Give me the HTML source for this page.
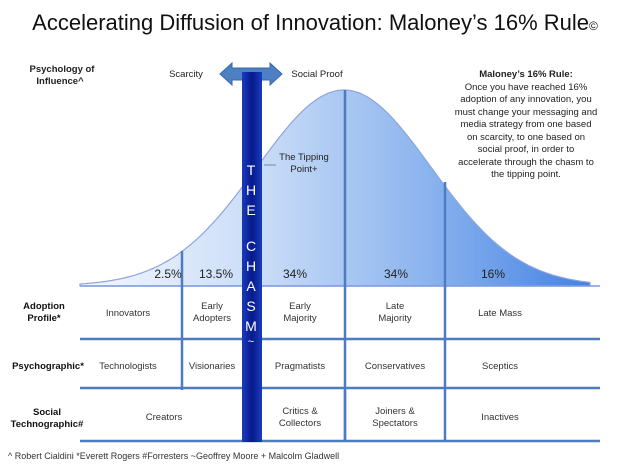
<!DOCTYPE html>
<html><head><meta charset="utf-8"><style>
body{margin:0;background:#fff;width:630px;height:466px;overflow:hidden}
svg{display:block}
text{font-family:"Liberation Sans",sans-serif}
</style></head><body>
<svg width="630" height="466" viewBox="0 0 630 466" xmlns="http://www.w3.org/2000/svg">
<defs>
<linearGradient id="cg" x1="80" y1="0" x2="600" y2="0" gradientUnits="userSpaceOnUse">
<stop offset="0" stop-color="#f4f8fe"/><stop offset="0.35" stop-color="#c9dcf7"/><stop offset="0.65" stop-color="#8fb6ef"/><stop offset="1" stop-color="#3f7fe3"/></linearGradient>
<linearGradient id="bar" x1="0" y1="0" x2="1" y2="0">
<stop offset="0" stop-color="#1a3bbf"/><stop offset="0.5" stop-color="#071a8a"/><stop offset="1" stop-color="#1a3bbf"/></linearGradient>
</defs>
<text x="315" y="30" text-anchor="middle" font-size="22" fill="#111">Accelerating Diffusion of Innovation: Maloney’s 16% Rule<tspan font-size="12">©</tspan></text>
<path id="curve" fill="url(#cg)" stroke="#8fa4dc" stroke-width="1.2"/>
<line x1="80" y1="286" x2="600" y2="286" stroke="#7f9be0" stroke-width="1.5"/>
<g stroke="#4d7cbf" stroke-width="2.5">
<line x1="182" y1="251" x2="182" y2="390"/>
<line x1="345" y1="90" x2="345" y2="442"/>
<line x1="445" y1="182" x2="445" y2="442"/>
<line x1="345" y1="390" x2="345" y2="442"/>
<line x1="80" y1="339" x2="600" y2="339"/>
<line x1="80" y1="388" x2="600" y2="388"/>
<line x1="80" y1="441" x2="600" y2="441"/>
</g>
<polygon points="220,74 232,63 232,68 270,68 270,63 282,74 270,85 270,80 232,80 232,85" fill="#4d7fc3" stroke="#3a68a8"/>
<rect x="242" y="72" width="20" height="370" fill="url(#bar)"/>
<g fill="#fff" font-size="14" text-anchor="middle">
<text x="251" y="175">T</text><text x="251" y="195">H</text><text x="251" y="215">E</text>
<text x="251" y="251">C</text><text x="251" y="271">H</text><text x="251" y="291">A</text><text x="251" y="311">S</text><text x="251" y="331">M</text><text x="251" y="345" font-size="11">~</text>
</g>
<g font-size="9.5" fill="#222">
<text x="62" y="72" text-anchor="middle" font-weight="bold">Psychology of</text>
<text x="60" y="84" text-anchor="middle" font-weight="bold">Influence^</text>
<text x="186" y="77" text-anchor="middle">Scarcity</text>
<text x="317" y="77" text-anchor="middle">Social Proof</text>
<text x="304" y="160" text-anchor="middle">The Tipping</text>
<text x="304" y="172" text-anchor="middle">Point+</text>
<g text-anchor="middle">
<text x="526" y="77" font-weight="bold">Maloney’s 16% Rule:</text>
<text x="526" y="90">Once you have reached 16%</text>
<text x="526" y="102">adoption of any innovation,  you</text>
<text x="526" y="115">must change your messaging and</text>
<text x="526" y="127">media strategy from one based</text>
<text x="526" y="140">on scarcity, to one based on</text>
<text x="526" y="152">social proof, in order to</text>
<text x="526" y="165">accelerate through the chasm to</text>
<text x="526" y="177">the tipping point.</text>
</g>
</g>
<line x1="264" y1="165" x2="276" y2="165" stroke="#6b86c8"/>
<g font-size="12" fill="#222" text-anchor="middle">
<text x="168" y="278">2.5%</text><text x="216" y="278">13.5%</text><text x="295" y="278">34%</text><text x="396" y="278">34%</text><text x="493" y="278">16%</text>
</g>
<g font-size="9.5" fill="#333" text-anchor="middle">
<text x="44" y="309" font-weight="bold" fill="#111">Adoption</text><text x="44" y="321" font-weight="bold" fill="#111">Profile*</text>
<text x="48" y="369" font-weight="bold" fill="#111">Psychographic*</text>
<text x="47" y="415" font-weight="bold" fill="#111">Social</text><text x="47" y="427" font-weight="bold" fill="#111">Technographic#</text>
<text x="128" y="316">Innovators</text>
<text x="212" y="309">Early</text><text x="212" y="321">Adopters</text>
<text x="300" y="309">Early</text><text x="300" y="321">Majority</text>
<text x="395" y="309">Late</text><text x="395" y="321">Majority</text>
<text x="500" y="316">Late Mass</text>
<text x="128" y="369">Technologists</text>
<text x="212" y="369">Visionaries</text>
<text x="300" y="369">Pragmatists</text>
<text x="395" y="369">Conservatives</text>
<text x="500" y="369">Sceptics</text>
<text x="164" y="420">Creators</text>
<text x="300" y="414">Critics &amp;</text><text x="300" y="426">Collectors</text>
<text x="395" y="414">Joiners &amp;</text><text x="395" y="426">Spectators</text>
<text x="500" y="420">Inactives</text>
<text x="8" y="459" text-anchor="start" font-size="9">^ Robert Cialdini *Everett Rogers  #Forresters ~Geoffrey Moore + Malcolm Gladwell</text>
</g>
</svg>
<script>
var d="M80,286";
for(var x=80;x<=590;x+=2){var z=(x-344)/87;var y=286-196*Math.exp(-z*z/2);d+=" L"+x+","+y.toFixed(1);}
d+=" L590,286 Z";
document.getElementById("curve").setAttribute("d",d);
</script>
</body></html>
